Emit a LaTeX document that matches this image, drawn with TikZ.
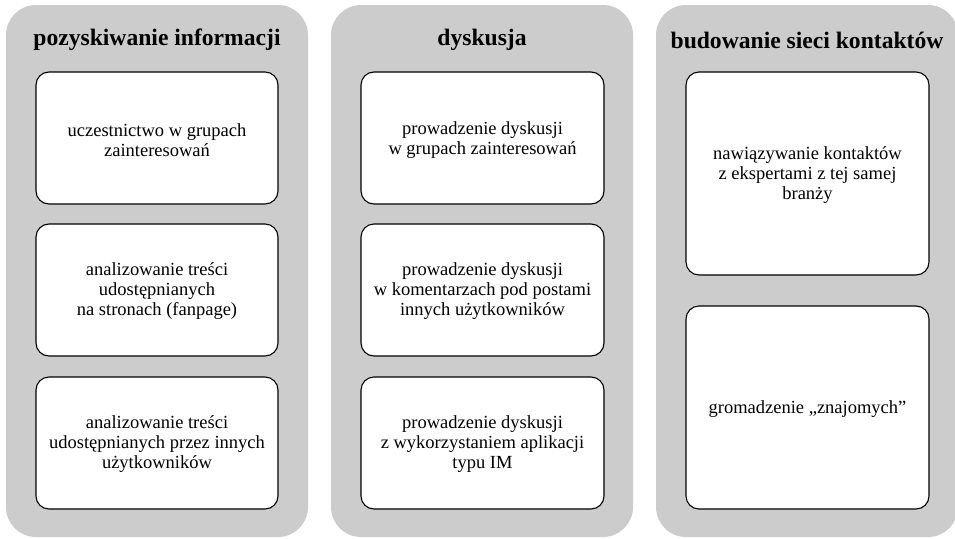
\documentclass[tikz,border=0pt]{standalone}
\usepackage{fontspec}
\setmainfont{Liberation Serif}
\begin{document}
\begin{tikzpicture}[x=1pt,y=-1pt,
  col/.style={fill=black!20,draw=none,rounded corners=30pt},
  card/.style={draw=black,line width=1.1pt,fill=white,rounded corners=13pt},
  ttl/.style={font=\fontsize{23.6}{27}\selectfont\bfseries,anchor=center},
  txt/.style={font=\fontsize{18.5}{20}\selectfont,align=center,anchor=center}]
\useasboundingbox (0,0) rectangle (955,538);
% columns
\path[col] (6,5) rectangle (308,537);
\path[col] (331,5) rectangle (633,537);
\path[col] (656,5) rectangle (958,537);
% titles
\node[ttl] (t1) at (157,40) {pozyskiwanie informacji};
\node[ttl] (t2) at (482,40) {dyskusja};
\node[ttl] (t3) at (807,40) {budowanie sieci kontaktów};
% left cards
\draw[card] (36,72) rectangle (278,204);
\draw[card] (36,224) rectangle (278,356);
\draw[card] (36,377) rectangle (278,509);
\node[txt] (a1) at (157,140) {uczestnictwo w grupach\\zainteresowań};
\node[txt] (a2) at (157,291) {analizowanie treści\\udostępnianych\\na stronach (fanpage)};
\node[txt] (a3) at (157,444) {analizowanie treści\\udostępnianych przez innych\\użytkowników};
% middle cards
\draw[card] (361,72) rectangle (604,204);
\draw[card] (361,224) rectangle (604,356);
\draw[card] (361,377) rectangle (604,509);
\node[txt] (b1) at (482.5,140) {prowadzenie dyskusji\\w grupach zainteresowań};
\node[txt] (b2) at (482.5,291) {prowadzenie dyskusji\\w komentarzach pod postami\\innych użytkowników};
\node[txt] (b3) at (482.5,444) {prowadzenie dyskusji\\z wykorzystaniem aplikacji\\typu IM};
% right cards
\draw[card] (686,72) rectangle (929,275);
\draw[card] (686,306) rectangle (929,509);
\node[txt] (c1) at (807.5,175) {nawiązywanie kontaktów\\z ekspertami z tej samej\\branży};
\node[txt] (c2) at (807.5,409) {gromadzenie „znajomych”};
\end{tikzpicture}
\end{document}
